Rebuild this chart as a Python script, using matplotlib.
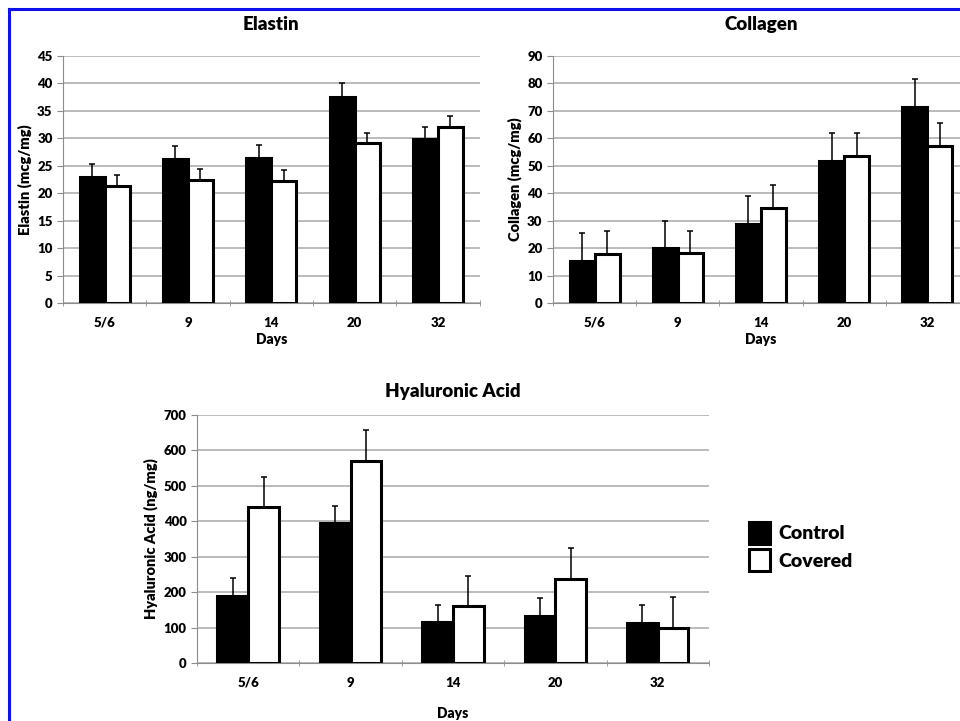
import matplotlib
matplotlib.use("Agg")
import matplotlib.pyplot as plt
import numpy as np
from matplotlib.patches import Patch
from matplotlib.lines import Line2D
from matplotlib.ticker import MultipleLocator

plt.rcParams['font.family'] = ['Lato', 'DejaVu Sans']
plt.rcParams['font.weight'] = 'heavy'

days = ["5/6", "9", "14", "20", "32"]

# Elastin (mcg/mg)
elastin_control = [23.0, 26.2, 26.4, 37.6, 29.8]
elastin_control_err = [2.3, 2.4, 2.3, 2.4, 2.3]
elastin_covered = [21.4, 22.5, 22.3, 29.1, 32.0]
elastin_covered_err = [1.9, 2.0, 1.9, 1.9, 2.0]

# Collagen (mcg/mg)
collagen_control = [15.2, 19.9, 28.8, 51.9, 71.3]
collagen_control_err = [10.2, 10.1, 10.1, 10.2, 10.3]
collagen_covered = [17.9, 18.1, 34.5, 53.6, 57.3]
collagen_covered_err = [8.2, 8.3, 8.4, 8.2, 8.2]

# Hyaluronic acid (ng/mg)
ha_control = [188, 395, 115, 133, 113]
ha_control_err = [51, 49, 48, 50, 50]
ha_covered = [440, 571, 160, 237, 99]
ha_covered_err = [86, 87, 87, 87, 86]

GRID = "#a8a8a8"
AXC = "#8c8c8c"
W = "heavy"


def bar_panel(ax, ctrl, ctrl_err, cov, cov_err, title, ylabel, ymax, step, tpad=16):
    x = np.arange(len(days))
    w = 0.3
    ax.bar(x - w / 2, ctrl, w, color="black", edgecolor="black", linewidth=2.2, zorder=3)
    ax.bar(x + w / 2, cov, w, color="white", edgecolor="black", linewidth=2.2, zorder=3)
    ax.errorbar(x - w / 2, ctrl, yerr=[np.zeros(len(ctrl)), ctrl_err], fmt="none",
                ecolor="black", elinewidth=1.1, capsize=2.5, capthick=1.1, zorder=4)
    ax.errorbar(x + w / 2, cov, yerr=[np.zeros(len(cov)), cov_err], fmt="none",
                ecolor="black", elinewidth=1.1, capsize=2.5, capthick=1.1, zorder=4)
    ax.set_xlim(-0.5, len(days) - 0.5)
    ax.set_ylim(0, ymax)
    ax.yaxis.set_major_locator(MultipleLocator(step))
    ax.yaxis.grid(True, color=GRID, linewidth=1.1, zorder=0)
    ax.set_axisbelow(True)
    ax.set_xticks(x)
    ax.set_xticklabels(days)
    ax.set_xticks(np.arange(-0.5, len(days)), minor=True)
    ax.tick_params(axis="x", which="major", length=0, pad=10, labelsize=9.5)
    ax.tick_params(axis="x", which="minor", length=4, direction="inout", color=AXC)
    ax.tick_params(axis="y", length=4, color=AXC, labelsize=9.5)
    for lbl in ax.get_xticklabels() + ax.get_yticklabels():
        lbl.set_fontweight(W)
    for s in ["top", "right"]:
        ax.spines[s].set_visible(False)
    for s in ["left", "bottom"]:
        ax.spines[s].set_color(AXC)
    ax.set_title(title, fontsize=13.5, fontweight=W, pad=tpad)
    ax.set_ylabel(ylabel, fontsize=10.5, fontweight=W)
    ax.set_xlabel("Days", fontsize=10, fontweight=W, labelpad=3)


fig = plt.figure(figsize=(9.6, 7.21), dpi=100)

ax1 = fig.add_axes([0.0656, 0.5797, 0.434, 0.3426])
bar_panel(ax1, elastin_control, elastin_control_err, elastin_covered, elastin_covered_err,
          "Elastin", "Elastin (mcg/mg)", 45, 5, tpad=19)

ax2 = fig.add_axes([0.576, 0.5797, 0.4333, 0.3426])
bar_panel(ax2, collagen_control, collagen_control_err, collagen_covered, collagen_covered_err,
          "Collagen", "Collagen (mcg/mg)", 90, 10, tpad=19)

ax3 = fig.add_axes([0.2052, 0.0804, 0.5333, 0.344])
bar_panel(ax3, ha_control, ha_control_err, ha_covered, ha_covered_err,
          "Hyaluronic Acid", "Hyaluronic Acid (ng/mg)", 700, 100, tpad=13)
ax3.xaxis.labelpad = 13

handles = [Patch(facecolor="black", edgecolor="black", linewidth=2.2, label="Control"),
           Patch(facecolor="white", edgecolor="black", linewidth=2.2, label="Covered")]
fig.legend(handles=handles, loc="center left", bbox_to_anchor=(0.762, 0.242),
           frameon=False, handlelength=1.1, handleheight=1.35,
           handletextpad=0.4, labelspacing=0.3,
           prop={"weight": W, "size": 14})

# blue frame lines at left and top
fig.add_artist(Line2D([0.0094, 0.0094], [0, 0.9875], color="#1010ee", linewidth=2.2))
fig.add_artist(Line2D([0.0094, 1.0], [0.9875, 0.9875], color="#1010ee", linewidth=2.2))

fig.savefig("out.png", dpi=100)
